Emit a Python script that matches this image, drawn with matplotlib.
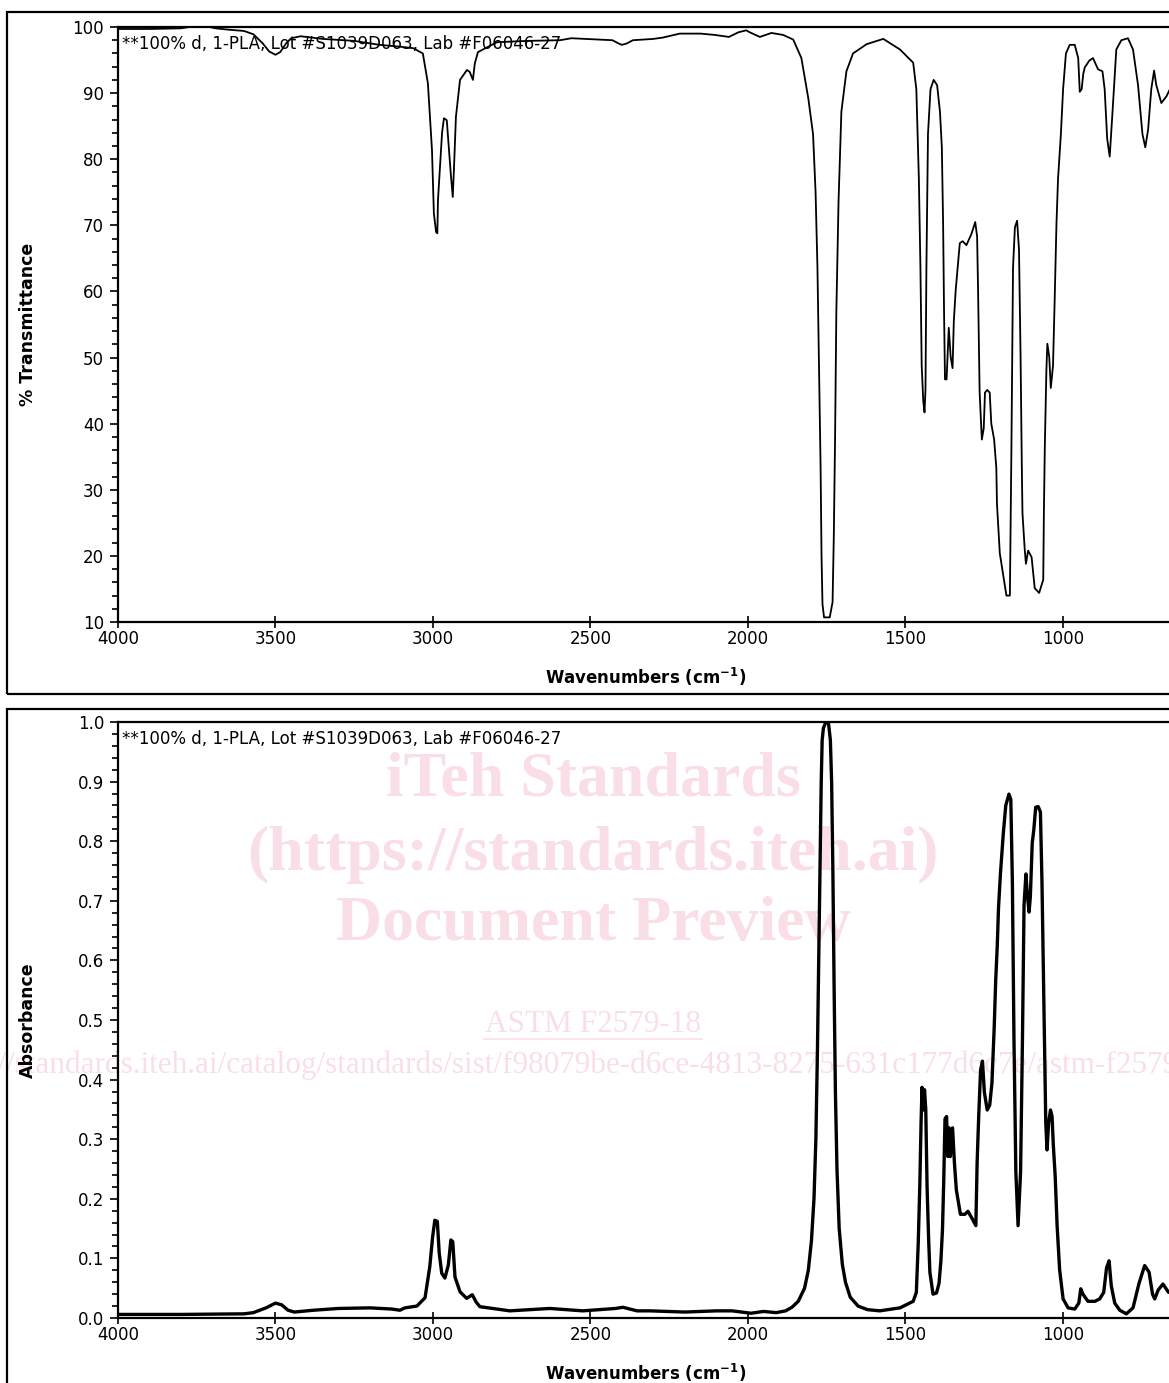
import matplotlib
matplotlib.use('Agg')
import matplotlib.pyplot as plt
from matplotlib.patches import Rectangle
from matplotlib.lines import Line2D
from matplotlib.ticker import MultipleLocator

# spectrum (cm-1, %T)
wn_trans = [4000, 3900, 3800, 3760, 3720, 3690, 3650, 3600, 3570, 3540, 3520, 3500, 3485, 3465,
            3450, 3420, 3350, 3250, 3170, 3100, 3063, 3032, 3016, 3003, 2997, 2990, 2986, 2984,
            2971, 2965, 2956, 2949, 2943, 2937, 2933, 2927, 2914, 2892, 2883, 2873, 2867, 2857,
            2797, 2700, 2597, 2560, 2430, 2410, 2400, 2385, 2365, 2300, 2270, 2216, 2150, 2105,
            2060, 2030, 2005, 1994, 1962, 1925, 1888, 1856, 1830, 1808, 1793, 1785, 1779, 1774,
            1769, 1766, 1763, 1758, 1740, 1731, 1727, 1723, 1719, 1712, 1703, 1687, 1666, 1623,
            1570, 1517, 1475, 1465, 1457, 1452, 1448, 1443, 1439, 1436, 1433, 1428, 1420, 1410,
            1399, 1390, 1384, 1380, 1377, 1374, 1369, 1362, 1356, 1350, 1346, 1340, 1327, 1318,
            1306, 1290, 1278, 1272, 1269, 1264, 1257, 1251, 1247, 1240, 1232, 1227, 1218, 1211,
            1209, 1200, 1189, 1179, 1168, 1163, 1158, 1152, 1145, 1139, 1134, 1130, 1128, 1121,
            1117, 1110, 1099, 1089, 1075, 1062, 1060, 1057, 1052, 1049, 1043, 1038, 1031, 1026,
            1020, 1015, 1006, 999, 990, 978, 962, 951, 946, 940, 935, 930, 916, 904, 888, 874,
            867, 859, 851, 842, 830, 814, 793, 777, 761, 747, 738, 729, 719, 710, 703, 687, 671,
            660, 650]
trans = [99.7, 99.7, 99.8, 100.1, 100.1, 99.8, 99.6, 99.4, 98.9, 97.5, 96.3, 95.8, 96.2, 97.6,
         98.3, 98.6, 98.2, 97.9, 97.3, 97.0, 96.8, 96.0, 91.5, 81.4, 71.8, 69.0, 68.8, 73.8,
         84.0, 86.2, 85.9, 81.4, 77.6, 74.3, 78.8, 86.4, 92.0, 93.5, 93.2, 92.0, 94.5, 96.2,
         97.7, 97.9, 98.0, 98.3, 98.0, 97.5, 97.3, 97.5, 98.0, 98.2, 98.4, 99.0, 99.0, 98.8,
         98.5, 99.2, 99.5, 99.2, 98.5, 99.1, 98.8, 98.1, 95.3, 89.2, 83.8, 75.1, 63.6, 48.8,
         33.3, 19.8, 12.7, 10.7, 10.7, 13.0, 23.1, 38.0, 56.9, 73.7, 87.2, 93.3, 96.0, 97.4,
         98.2, 96.6, 94.6, 90.6, 77.1, 63.6, 48.8, 43.4, 41.7, 45.1, 63.6, 83.8, 90.6, 92.0,
         91.2, 87.2, 81.8, 70.3, 56.9, 46.7, 46.7, 54.5, 50.1, 48.4, 55.5, 60.2, 67.3, 67.6,
         67.0, 68.7, 70.5, 68.3, 60.2, 44.7, 37.6, 39.3, 44.7, 45.1, 44.7, 40.0, 37.6, 33.3,
         27.9, 20.4, 17.1, 14.0, 14.0, 36.6, 63.6, 69.7, 70.7, 66.3, 50.1, 33.3, 26.5, 21.1,
         18.8, 20.8, 19.8, 15.1, 14.4, 16.4, 26.5, 36.6, 48.1, 52.1, 50.1, 45.4, 48.8, 58.2,
         70.3, 77.1, 83.8, 90.6, 96.0, 97.3, 97.3, 95.3, 90.2, 90.6, 92.9, 93.9, 94.9, 95.3, 93.6, 93.3,
         90.6, 83.1, 80.4, 87.2, 96.6, 98.0, 98.3, 96.6, 91.2, 83.8, 81.8, 84.5, 90.6, 93.4, 91.2, 88.5, 89.5,
         90.6, 91.0]

# spectrum (cm-1, A)
wn_abs = [4000, 3800, 3600, 3570, 3530, 3500, 3480, 3460, 3440, 3380, 3300, 3200, 3130, 3105,
          3089, 3051, 3025, 3010, 3001, 2994, 2986, 2980, 2972, 2962, 2951, 2943, 2937, 2930,
          2914, 2893, 2875, 2863, 2851, 2810, 2756, 2629, 2524, 2420, 2397, 2352, 2311, 2200,
          2100, 2050, 1990, 1950, 1910, 1880, 1860, 1840, 1820, 1808, 1798, 1790, 1784, 1779,
          1775, 1771, 1767, 1764, 1760, 1752, 1744, 1738, 1734, 1730, 1726, 1722, 1717, 1710,
          1700, 1690, 1675, 1650, 1620, 1581, 1517, 1475, 1465, 1459, 1454, 1450, 1447, 1443,
          1439, 1435, 1431, 1426, 1422, 1412, 1401, 1393, 1387, 1382, 1378, 1374, 1369, 1365,
          1361, 1357, 1350, 1344, 1338, 1331, 1325, 1311, 1301, 1287, 1276, 1272, 1267, 1261,
          1255, 1249, 1240, 1232, 1225, 1218, 1213, 1208, 1204, 1198, 1189, 1181, 1171, 1165,
          1160, 1155, 1149, 1142, 1134, 1128, 1123, 1117, 1112, 1107, 1103, 1097, 1092, 1086,
          1078, 1071, 1066, 1062, 1058, 1054, 1050, 1045, 1039, 1034, 1030, 1024, 1018, 1010,
          999, 983, 962, 949, 943, 936, 920, 898, 883, 870, 861, 853, 846, 835, 819, 798, 777,
          758, 740, 726, 715, 708, 697, 682, 664, 650]
absorb = [0.006, 0.006, 0.007, 0.009, 0.017, 0.025, 0.022, 0.013, 0.010, 0.013, 0.016, 0.017,
          0.015, 0.013, 0.017, 0.020, 0.034, 0.086, 0.136, 0.164, 0.162, 0.109, 0.075, 0.067,
          0.089, 0.131, 0.128, 0.069, 0.044, 0.033, 0.039, 0.027, 0.019, 0.016, 0.012, 0.016,
          0.012, 0.016, 0.018, 0.012, 0.012, 0.010, 0.012, 0.012, 0.008, 0.011, 0.009, 0.012,
          0.018, 0.028, 0.05, 0.08, 0.13, 0.2, 0.3, 0.45, 0.6, 0.75, 0.9, 0.97, 0.99, 1.0, 0.998,
          0.97, 0.9, 0.75, 0.55, 0.38, 0.25, 0.15, 0.09, 0.06, 0.035, 0.02, 0.014, 0.012, 0.017,
          0.028, 0.043, 0.125, 0.222, 0.327, 0.387, 0.349, 0.383, 0.349, 0.222, 0.133, 0.077,
          0.040, 0.042, 0.058, 0.096, 0.148, 0.230, 0.334, 0.338, 0.271, 0.319, 0.271, 0.319,
          0.260, 0.215, 0.193, 0.174, 0.174, 0.179, 0.166, 0.155, 0.260, 0.338, 0.416, 0.431,
          0.379, 0.349, 0.357, 0.394, 0.484, 0.566, 0.625, 0.689, 0.745, 0.812, 0.860, 0.879,
          0.870, 0.730, 0.469, 0.245, 0.155, 0.245, 0.469, 0.693, 0.745, 0.707, 0.681, 0.707,
          0.797, 0.819, 0.857, 0.858, 0.849, 0.730, 0.596, 0.469, 0.327, 0.282, 0.327, 0.349,
          0.338, 0.290, 0.237, 0.155, 0.081, 0.032, 0.017, 0.015, 0.025, 0.049, 0.040, 0.028,
          0.028, 0.032, 0.043, 0.084, 0.096, 0.054, 0.025, 0.013, 0.007, 0.017, 0.058, 0.088,
          0.077, 0.040, 0.032, 0.047, 0.057, 0.043, 0.045]

note = '**100% d, 1-PLA, Lot #S1039D063, Lab #F06046-27'
xlabel = r'Wavenumbers (cm$^{\mathbf{-1}}$)'
wm_lines = ['iTeh Standards', '(https://standards.iteh.ai)', 'Document Preview']
wm_code = 'ASTM F2579-18'
wm_url = 'https://standards.iteh.ai/catalog/standards/sist/f98079be-d6ce-4813-8275-631c177d6c7e/astm-f2579-18'

W, H = 1169, 1383
plt.rcParams['font.family'] = 'DejaVu Sans'
fig = plt.figure(figsize=(W / 100, H / 100), dpi=100)
fig.patch.set_facecolor('white')


def box(left, top, right, bottom):
    return [left / W, 1 - bottom / H, (right - left) / W, (bottom - top) / H]


def style(ax, ylabel):
    ax.set_xlim(4000, 650)
    ax.xaxis.set_major_locator(MultipleLocator(500))
    ax.tick_params(axis='x', direction='inout', length=8, width=1.2, labelsize=12, pad=2)
    ax.tick_params(axis='y', which='major', direction='out', length=6, width=1.2,
                   labelsize=12, pad=4)
    ax.tick_params(axis='y', which='minor', direction='out', length=4.5, width=1.2)
    for s in ax.spines.values():
        s.set_linewidth(1.6)
    ax.set_xlabel(xlabel, fontsize=12, fontweight='bold', labelpad=13)
    ax.set_ylabel(ylabel, fontsize=12.5, fontweight='bold')
    ax.yaxis.set_label_coords(-0.077, 0.5)
    ax.text(0.004, 1 - 17 / 595, note, transform=ax.transAxes, fontsize=12,
            va='center', ha='left')


# frames around each panel
fig.add_artist(Rectangle((7 / W, 1 - 694 / H), 1.2, 682 / H, transform=fig.transFigure,
                         fill=False, lw=1.6, ec='black'))
fig.add_artist(Rectangle((7 / W, -0.05), 1.2, 1 - 709 / H + 0.05, transform=fig.transFigure,
                         fill=False, lw=1.6, ec='black'))

ax1 = fig.add_axes(box(118, 27, 1173, 622))
ax1.plot(wn_trans, trans, color='black', lw=1.3, zorder=3)
ax1.set_ylim(10, 100)
ax1.yaxis.set_major_locator(MultipleLocator(10))
ax1.yaxis.set_minor_locator(MultipleLocator(2))
style(ax1, '% Transmittance')

ax2 = fig.add_axes(box(118, 722, 1173, 1318))
ax2.plot(wn_abs, absorb, color='black', lw=2.4, zorder=3)
ax2.set_ylim(0, 1.0)
ax2.yaxis.set_major_locator(MultipleLocator(0.1))
ax2.yaxis.set_minor_locator(MultipleLocator(0.02))
ax2.yaxis.set_major_formatter(matplotlib.ticker.FormatStrFormatter('%.1f'))
style(ax2, 'Absorbance')

# watermark
pink = '#f9dfe5'
for txt, y in zip(wm_lines, [780, 855, 925]):
    ax2.text(593 / W, 1 - y / H, txt, transform=fig.transFigure, fontsize=46,
             family='Liberation Serif', fontweight='bold', color=pink,
             ha='center', va='center', zorder=1, clip_on=False)
ax2.text(593 / W, 1 - 1025 / H, wm_code, transform=fig.transFigure, fontsize=22.5,
         family='Liberation Serif', color=pink, ha='center', va='center', zorder=1,
         clip_on=False)
fig.add_artist(Line2D([484 / W, 702 / W], [1 - 1039 / H, 1 - 1039 / H], color=pink, lw=1.2,
                      transform=fig.transFigure, zorder=1))
ax2.text(575 / W, 1 - 1065 / H, wm_url, transform=fig.transFigure, fontsize=22.5,
         family='Liberation Serif', color=pink, ha='center', va='center', zorder=1,
         clip_on=False)

fig.savefig('out.png', dpi=100)
